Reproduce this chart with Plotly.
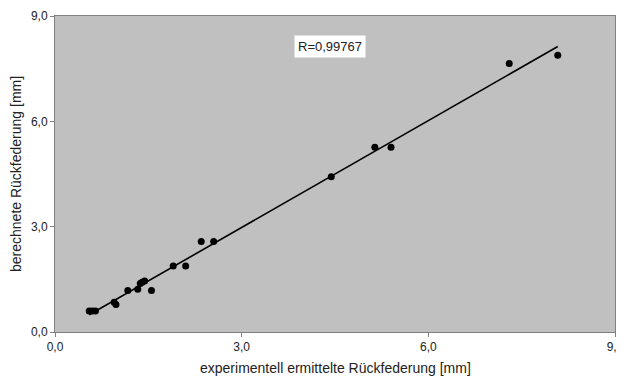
import numpy as np
import plotly.graph_objects as go

# experimental springback [mm]
x_exp = [0.55, 0.60, 0.65, 0.95, 0.98, 1.17, 1.33, 1.37, 1.40, 1.44, 1.55,
         1.90, 2.10, 2.35, 2.55, 4.44, 5.14, 5.40, 7.30, 8.08]
# calculated springback [mm]
y_calc = [0.60, 0.60, 0.60, 0.85, 0.78, 1.18, 1.22, 1.38, 1.42, 1.45, 1.18,
          1.88, 1.88, 2.58, 2.58, 4.42, 5.26, 5.26, 7.65, 7.88]
r_label = "R=0,99767"
x_title = "experimentell ermittelte Rückfederung [mm]"
y_title = "berechnete Rückfederung [mm]"
ticks = [0, 3, 6, 9]

slope, inter = np.polyfit(x_exp, y_calc, 1)
xl = [min(x_exp), max(x_exp)]
yl = [slope * v + inter for v in xl]

fig = go.Figure()
fig.add_trace(go.Scatter(x=xl, y=yl, mode="lines",
                         line=dict(color="#000000", width=1.6),
                         showlegend=False, hoverinfo="skip"))
fig.add_trace(go.Scatter(x=x_exp, y=y_calc, mode="markers",
                         marker=dict(color="#000000", size=7),
                         showlegend=False))

axis_common = dict(range=[0, 9], tickvals=ticks, tickformat=".1f",
                   showgrid=False, zeroline=False, showline=True,
                   linecolor="#808080", linewidth=1, mirror=True,
                   ticks="outside", ticklen=4, tickcolor="#808080",
                   automargin=False,
                   tickfont=dict(family="Liberation Sans, Arial", size=12, color="#222222"))

# page body has an 8px margin, so the figure is sized to fit the window
fig.update_layout(
    width=616, height=373,
    margin=dict(l=47, r=9, t=8, b=49),
    paper_bgcolor="white", plot_bgcolor="#C0C0C0",
    separators=",.",
    font=dict(family="Liberation Sans, Arial", size=12, color="#222222"),
    xaxis=dict(**axis_common),
    yaxis=dict(**axis_common),
    annotations=[
        dict(text=r_label, xref="paper", yref="paper",
             x=0.491, y=0.94, showarrow=False,
             bgcolor="white", borderpad=3,
             font=dict(size=13, color="#222222")),
        dict(text=x_title, xref="paper", yref="paper", x=0.5, y=0,
             yshift=-36, yanchor="middle", showarrow=False,
             font=dict(size=14, color="#222222")),
        dict(text=y_title, xref="paper", yref="paper", x=0, y=0.5,
             xshift=-39, xanchor="center", textangle=-90, showarrow=False,
             font=dict(size=14, color="#222222")),
    ],
)

fig.write_html("out.html")
